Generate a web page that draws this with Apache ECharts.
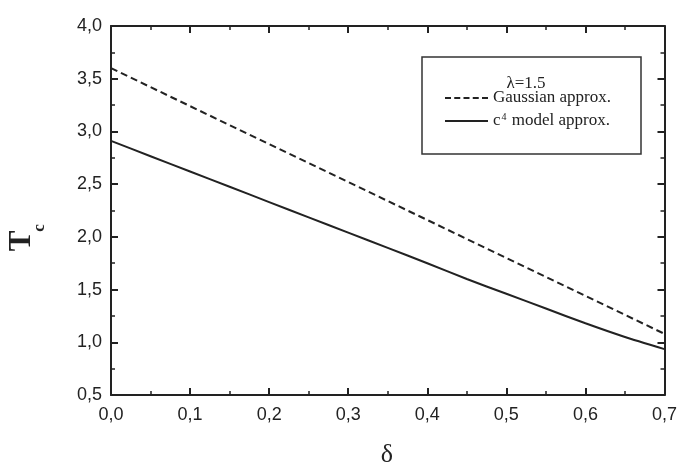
<!DOCTYPE html>
<html>
<head>
<meta charset="utf-8">
<script src="https://cdn.jsdelivr.net/npm/echarts@6/dist/echarts.min.js"></script>
<style>
  html, body { margin: 0; padding: 0; background: #fff; }
  #chart { width: 680px; height: 469px; }
</style>
</head>
<body>
<div id="chart"></div>
<script>
// Critical temperature Tc versus delta for lambda = 1.5
const deltaValues = [0.00, 0.05, 0.10, 0.15, 0.20, 0.25, 0.30, 0.35, 0.40, 0.45, 0.50, 0.55, 0.60, 0.65, 0.70];
const gaussianTc  = [3.60, 3.42, 3.24, 3.06, 2.88, 2.70, 2.52, 2.34, 2.16, 1.98, 1.80, 1.62, 1.44, 1.26, 1.08];
const c4ModelTc   = [2.91, 2.765, 2.62, 2.475, 2.33, 2.185, 2.04, 1.895, 1.75, 1.60, 1.46, 1.32, 1.18, 1.05, 0.935];
const seriesNames = ['Gaussian approx.', 'c4 model approx.'];
const legendTitle = 'λ=1.5';
const xAxisTitle = 'δ';
const yAxisTitleMain = 'T';
const yAxisTitleSub = 'c';

const ink = '#222';
const labelFont = '"Liberation Sans", Arial, sans-serif';
const serifFont = '"Liberation Serif", "Times New Roman", serif';

// legend keys (43 x 2 units): five short dashes, and one unbroken stroke
const dashedKey = 'path://M0,0h6v2h-6z M9.25,0h6v2h-6z M18.5,0h6v2h-6z M27.75,0h6v2h-6z M37,0h6v2h-6z';
const solidKey = 'path://M0,0h43v2h-43z';

const commaLabel = v => v.toFixed(1).replace('.', ',');

function pairs(xs, ys) {
  return xs.map((x, i) => [x, ys[i]]);
}

function valueAxis(common, extra) {
  return Object.assign({
    type: 'value',
    axisLine: { show: true, onZero: false, lineStyle: { color: ink, width: 2 } },
    axisTick: { show: true, inside: true, length: 7, lineStyle: { color: ink, width: 2 } },
    minorTick: { show: true, splitNumber: 2, length: 4, lineStyle: { color: ink, width: 1.5 } },
    splitLine: { show: false },
    minorSplitLine: { show: false }
  }, common, extra);
}

const xCommon = { min: 0, max: 0.7, interval: 0.1 };
const yCommon = { min: 0.5, max: 4.0, interval: 0.5 };

const chart = echarts.init(document.getElementById('chart'), null, { renderer: 'canvas' });

chart.setOption({
  animation: false,
  backgroundColor: '#fff',
  grid: { left: 111, right: 13, top: 26, bottom: 74, containLabel: false },
  xAxis: [
    valueAxis(xCommon, {
      position: 'bottom',
      axisLabel: { show: true, margin: 11, color: ink, fontFamily: labelFont, fontSize: 18, formatter: commaLabel }
    }),
    valueAxis(xCommon, { position: 'top', axisLabel: { show: false } })
  ],
  yAxis: [
    valueAxis(yCommon, {
      position: 'left',
      axisLabel: { show: true, margin: 9, color: ink, fontFamily: labelFont, fontSize: 18, formatter: commaLabel }
    }),
    valueAxis(yCommon, { position: 'right', axisLabel: { show: false } })
  ],
  legend: {
    orient: 'vertical',
    left: 440,
    top: 84,
    padding: 5,
    itemWidth: 43,
    itemHeight: 2,
    itemGap: 5,
    data: [
      { name: seriesNames[0], icon: dashedKey, itemStyle: { color: ink, borderWidth: 0 } },
      { name: seriesNames[1], icon: solidKey, itemStyle: { color: ink, borderWidth: 0 } }
    ],
    textStyle: {
      fontFamily: serifFont,
      fontSize: 17,
      lineHeight: 18,
      color: ink,
      rich: {
        b: { fontFamily: serifFont, fontSize: 17, lineHeight: 18, color: ink },
        sup: { fontFamily: serifFont, fontSize: 10, color: ink, padding: [0, 1, 8, 1] }
      }
    },
    formatter: name => name === seriesNames[1] ? '{b|c}{sup|4}{b| model approx.}' : name
  },
  graphic: [
    {
      type: 'rect',
      shape: { x: 422, y: 57, width: 219, height: 97 },
      style: { fill: 'transparent', stroke: '#333', lineWidth: 1.5 },
      z: 1
    },
    {
      type: 'text',
      x: 526, y: 84,
      style: { text: legendTitle, font: '17px ' + serifFont, fill: ink, align: 'center', verticalAlign: 'middle' }
    },
    {
      type: 'text',
      x: 387, y: 455,
      style: { text: xAxisTitle, font: '26px ' + serifFont, fill: ink, align: 'center', verticalAlign: 'middle' }
    },
    {
      type: 'text',
      x: 22, y: 241,
      rotation: Math.PI / 2,
      style: { text: yAxisTitleMain, font: 'bold 31px ' + serifFont, fill: ink, align: 'center', verticalAlign: 'middle' }
    },
    {
      type: 'text',
      x: 40, y: 228,
      rotation: Math.PI / 2,
      style: { text: yAxisTitleSub, font: 'bold 17px ' + serifFont, fill: ink, align: 'center', verticalAlign: 'middle' }
    }
  ],
  series: [
    {
      name: seriesNames[0],
      type: 'line',
      xAxisIndex: 0,
      yAxisIndex: 0,
      symbol: 'none',
      data: pairs(deltaValues, gaussianTc),
      lineStyle: { color: ink, width: 2, type: [7, 4] },
      itemStyle: { color: ink }
    },
    {
      name: seriesNames[1],
      type: 'line',
      xAxisIndex: 0,
      yAxisIndex: 0,
      symbol: 'none',
      smooth: 0.2,
      data: pairs(deltaValues, c4ModelTc),
      lineStyle: { color: ink, width: 2, type: 'solid' },
      itemStyle: { color: ink }
    }
  ]
});
</script>
</body>
</html>
